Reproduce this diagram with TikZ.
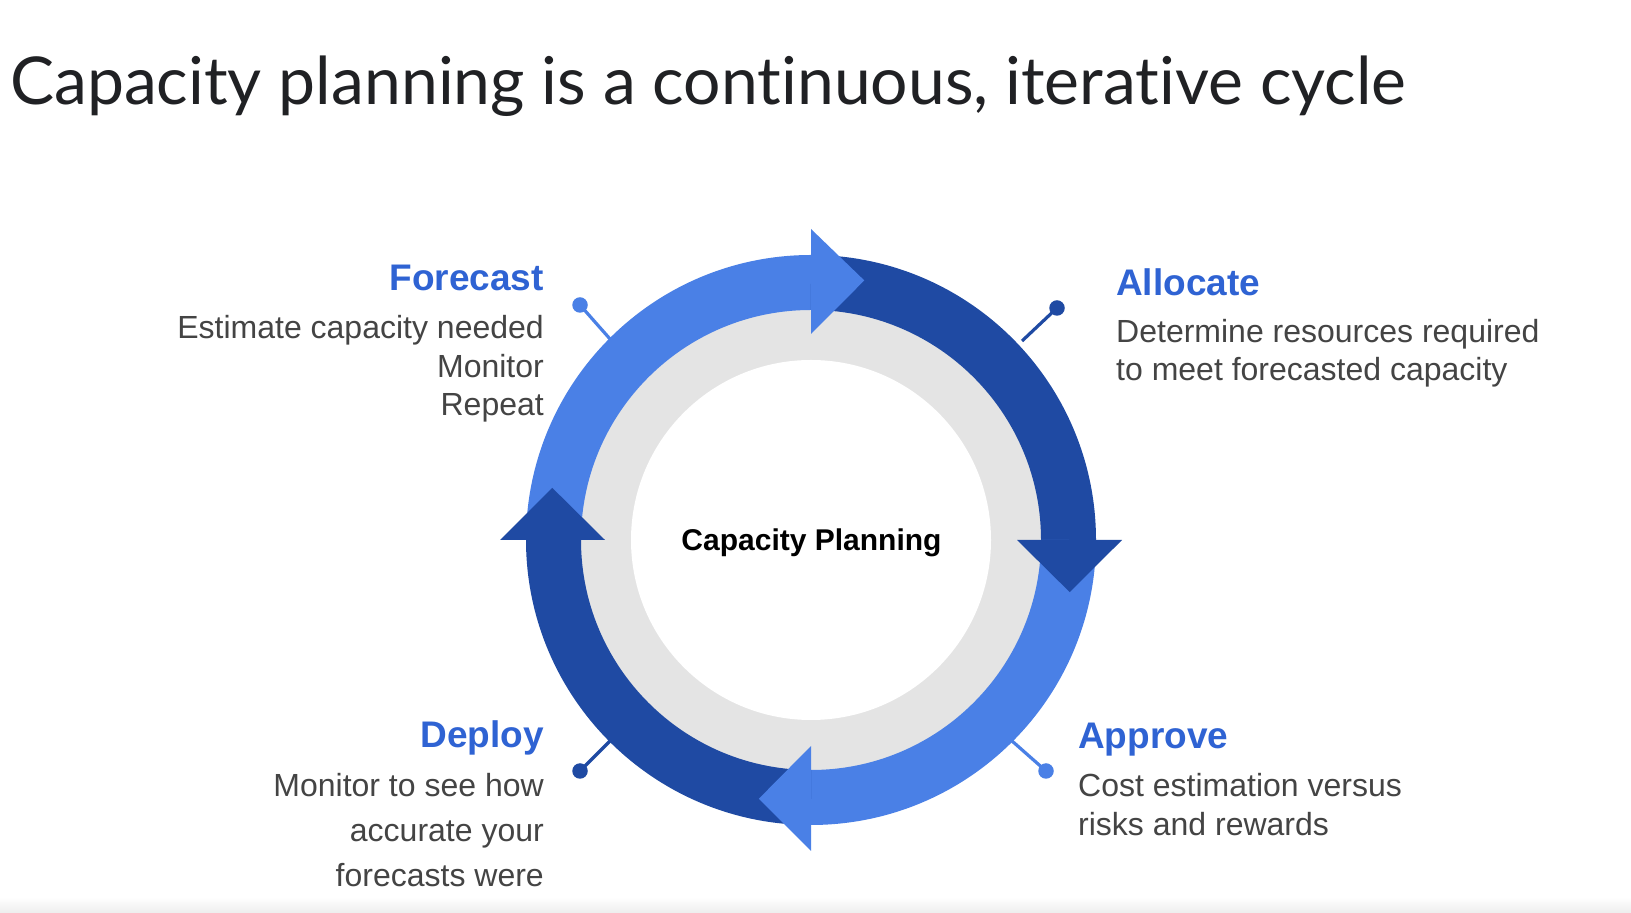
\documentclass[tikz,border=0pt]{standalone}
\usepackage{fontspec}
\setmainfont{Liberation Sans}
\newfontfamily\titlefont[Ligatures=NoCommon]{Lato}
\definecolor{lightband}{HTML}{4A80E6}
\definecolor{darkband}{HTML}{1F4AA3}
\definecolor{ringgray}{HTML}{E4E4E4}
\definecolor{headblue}{HTML}{2F63D3}
\definecolor{bodygray}{HTML}{444444}
\definecolor{titlegray}{HTML}{202124}
\begin{document}
\begin{tikzpicture}[x=1pt,y=1pt,
  band/.style={line width=55pt},
  headtext/.style={font=\fontsize{37}{44}\selectfont\bfseries, text=headblue, inner sep=0pt},
  bodytext/.style={font=\fontsize{32}{38}\selectfont, text=bodygray, inner sep=0pt},
  dotnode/.style={circle, minimum size=15.5pt, inner sep=0pt},
  stem/.style={line width=3.2pt}
]
\useasboundingbox[fill=white] (0,0) rectangle (1631,913);
\shade[top color=white, bottom color=black!7] (0,0) rectangle (1631,16);

% title
\node[anchor=base west, inner sep=0pt, font=\titlefont\fontsize{66}{66}\selectfont, text=titlegray] (title) at (10,808) {Capacity planning is a continuous, iterative cycle};

% ring
\coordinate (C) at (811,373);
\fill[ringgray] (C) circle[radius=232];
\fill[white] (C) circle[radius=180];

% bands
\draw[band, lightband] ([shift={(180:257.5)}]C) arc[start angle=180, end angle=90, radius=257.5];
\draw[band, darkband] ([shift={(90:257.5)}]C) arc[start angle=90, end angle=0, radius=257.5];
\draw[band, lightband] ([shift={(0:257.5)}]C) arc[start angle=0, end angle=-90, radius=257.5];
\draw[band, darkband] ([shift={(-90:257.5)}]C) arc[start angle=-90, end angle=-180, radius=257.5];

% arrowheads
\fill[lightband] ([shift={(90:206)}]C) -- ([shift={(90:311)}]C) -- ([shift={(78.4:265)}]C) -- cycle;
\fill[darkband] ([shift={(0:206)}]C) -- ([shift={(0:311)}]C) -- ([shift={(-11.4:264)}]C) -- cycle;
\fill[lightband] ([shift={(-90:206)}]C) -- ([shift={(-90:311)}]C) -- ([shift={(-101.4:264)}]C) -- cycle;
\fill[darkband] ([shift={(180:206)}]C) -- ([shift={(180:311)}]C) -- ([shift={(168.6:264)}]C) -- cycle;

% centre label
\node[anchor=base, inner sep=0pt, font=\fontsize{30}{36}\selectfont\bfseries, text=black] (cp) at (811.5,362) {Capacity Planning};

% pins
\coordinate (fe) at ([shift={(135:284)}]C);
\coordinate (ae) at (1022,572);
\coordinate (pe) at ([shift={(-45:284)}]C);
\coordinate (de) at ([shift={(-135:284)}]C);
\node[dotnode, fill=lightband] (fdot) at (580,608) {};
\node[dotnode, fill=darkband] (adot) at (1057,605) {};
\node[dotnode, fill=lightband] (pdot) at (1046,142) {};
\node[dotnode, fill=darkband] (ddot) at (580,142) {};
\draw[stem, lightband] (fe) -- (fdot.center);
\draw[stem, darkband] (ae) -- (adot.center);
\draw[stem, lightband] (pe) -- (pdot.center);
\draw[stem, darkband] (de) -- (ddot.center);

% Forecast
\node[headtext, anchor=base east] (fh) at (544,622) {Forecast};
\node[bodytext, anchor=base east] (f1) at (544,574) {Estimate capacity needed};
\node[bodytext, anchor=base east] (f2) at (544,535.5) {Monitor};
\node[bodytext, anchor=base east] (f3) at (544,497) {Repeat};

% Allocate
\node[headtext, anchor=base west] (ah) at (1116,617) {Allocate};
\node[bodytext, anchor=base west] (a1) at (1116,570) {Determine resources required};
\node[bodytext, anchor=base west] (a2) at (1116,532.5) {to meet forecasted capacity};

% Approve
\node[headtext, anchor=base west] (ph) at (1078,164) {Approve};
\node[bodytext, anchor=base west] (p1) at (1078,116) {Cost estimation versus};
\node[bodytext, anchor=base west] (p2) at (1078,77.5) {risks and rewards};

% Deploy
\node[headtext, anchor=base east] (dh) at (544,165) {Deploy};
\node[bodytext, anchor=base east] (d1) at (544,116) {Monitor to see how};
\node[bodytext, anchor=base east] (d2) at (544,71.5) {accurate your};
\node[bodytext, anchor=base east] (d3) at (544,26.5) {forecasts were};
\end{tikzpicture}
\end{document}
